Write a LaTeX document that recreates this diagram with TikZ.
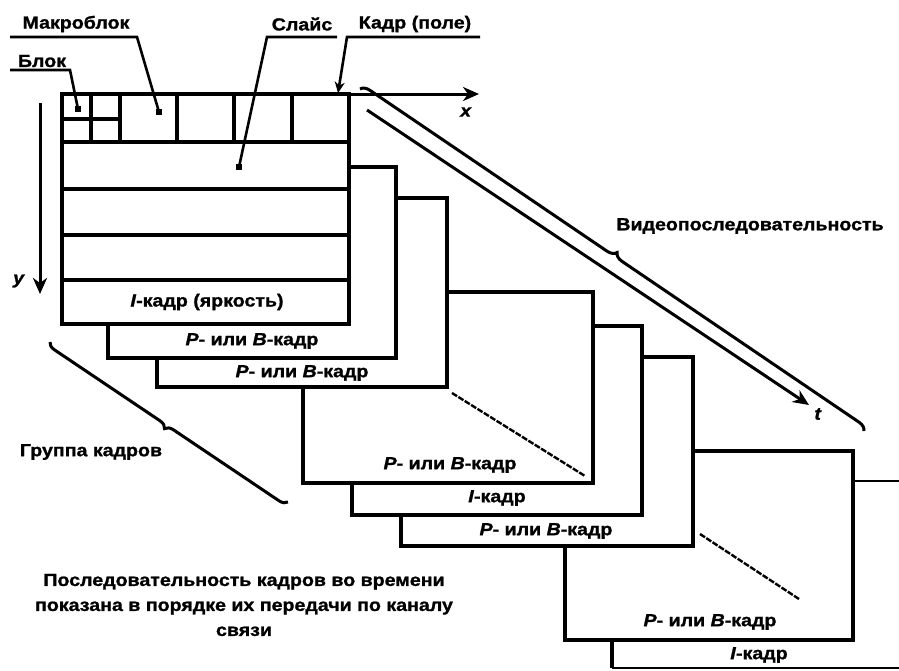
\documentclass[tikz,border=0pt]{standalone}
\usepackage{fontspec}
\setmainfont{Liberation Sans}[FakeStretch=1.12,BoldFeatures={FakeBold=1.2},BoldItalicFeatures={FakeBold=1.2}]
\usetikzlibrary{arrows.meta,decorations.pathreplacing}
\tikzset{
  frm/.style={draw=black,line width=3.2pt,fill=white},
  thinfrm/.style={draw=black,line width=1.2pt},
  grid/.style={draw=black,line width=3.2pt},
  lead/.style={draw=black,line width=2.6pt},
  axis/.style={draw=black,line width=3pt,-{Stealth[length=16pt,width=14pt,inset=5pt]}},
  txt/.style={font=\fontsize{17.5}{20}\selectfont\bfseries,inner sep=0pt},
  diag/.style={draw=black,line width=3pt},
  dsh/.style={draw=black,line width=2.4pt,dash pattern=on 6pt off 1.5pt},
  brc/.style={draw=black,line width=3pt,decorate,decoration={brace,amplitude=9pt}},
  arr/.style={-{Stealth[length=16pt,width=14pt,inset=5pt]}},
  dot/.style={fill=black,inner sep=0pt,minimum size=6pt,rectangle}
}
\begin{document}
\begin{tikzpicture}[x=1pt,y=-1pt]
\useasboundingbox (0,0) rectangle (899,670);
\begin{scope}
\clip (0,0) rectangle (899,670);
% frame 8 (partly outside)
\draw[thinfrm] (853,481) -- (905,481);
\draw[frm] (612,640) -- (612,668);
\draw[thinfrm] (612,668) -- (905,668);
\end{scope}
% frames from back to front
\draw[frm] (565,451) rectangle (853,640);
\draw[dsh] (700,534) -- (799,599);
\draw[frm] (401,357) rectangle (693,546);
\draw[frm] (352,326) rectangle (642,515);
\draw[frm] (303,292) rectangle (593,483);
\draw[dsh] (452,393) -- (585,476);
\draw[frm] (157,198) rectangle (447,387);
\draw[frm] (108,167) rectangle (396,358);
\draw[frm] (62,94) rectangle (349,324);
% frame 1 subdivisions
\draw[grid] (62,142) -- (349,142);
\draw[grid] (62,189) -- (349,189);
\draw[grid] (62,235) -- (349,235);
\draw[grid] (62,280) -- (349,280);
\foreach \xx in {120,177,234,292} \draw[grid] (\xx,94) -- (\xx,142);
\draw[grid] (91,94) -- (91,142);
\draw[grid] (62,119) -- (120,119);
% frame labels
\node[txt] (l1) at (207,302) {\textit{I}-кадр (яркость)};
\node[txt] (l2) at (252,341) {\textit{P}- или \textit{B}-кадр};
\node[txt] (l3) at (302,373) {\textit{P}- или \textit{B}-кадр};
\node[txt] (l4) at (450,465) {\textit{P}- или \textit{B}-кадр};
\node[txt] (l5) at (497,498) {\textit{I}-кадр};
\node[txt] (l6) at (546,531) {\textit{P}- или \textit{B}-кадр};
\node[txt] (l7) at (710,622) {\textit{P}- или \textit{B}-кадр};
\node[txt] (l8) at (759,655) {\textit{I}-кадр};
% axes
\coordinate (xs) at (349,94);
\coordinate (xe) at (479,94);
\draw[axis] (xs) -- (xe);
\node[txt] (xl) at (466,112) {\textit{x}};
\coordinate (ys) at (40,103);
\coordinate (ye) at (40,294);
\draw[axis] (ys) -- (ye);
\node[txt] (yl) at (19,281) {\textit{y}};
% time arrow
\coordinate (ts) at (367,110);
\coordinate (te) at (809,405);
\draw[diag,arr] (ts) -- (te);
\node[txt] (tl) at (818,414) {\textit{t}};
% braces
\coordinate (b1s) at (360,89);
\coordinate (b1e) at (864,431);
\draw[brc] (b1s) -- (b1e);
\node[txt] (vs) at (750,226) {Видеопоследовательность};
\coordinate (b2s) at (50,342);
\coordinate (b2e) at (288,502);
\draw[brc,decoration={brace,amplitude=8pt,mirror}] (b2s) -- (b2e);
\node[txt] (gr) at (91,452) {Группа кадров};
% top labels with leaders
\node[txt] (mb) at (76,24) {Макроблок};
\coordinate (mbu1) at (10,37);
\coordinate (mbu2) at (137,37);
\coordinate (mbt) at (159,112);
\draw[lead] (mbu1) -- (mbu2) -- (mbt);
\node[dot] (mbd) at (mbt) {};
\node[txt] (bl) at (42,61) {Блок};
\coordinate (blu1) at (10,70);
\coordinate (blu2) at (70,70);
\coordinate (blt) at (78,109);
\draw[lead] (blu1) -- (blu2) -- (blt);
\node[dot] (bld) at (blt) {};
\node[txt] (sl) at (302,24) {Слайс};
\coordinate (slu1) at (337,37);
\coordinate (slu2) at (267,37);
\coordinate (slt) at (239,167);
\draw[lead] (slu1) -- (slu2) -- (slt);
\node[dot] (sld) at (slt) {};
\node[txt] (kd) at (415,24) {Кадр (поле)};
\coordinate (kdu1) at (480,37);
\coordinate (kdu2) at (347,37);
\coordinate (kdt) at (338,93);
\draw[lead,-{Stealth[length=11pt,width=10pt]}] (kdu1) -- (kdu2) -- (kdt);
% bottom caption
\node[txt,align=center,font=\fontsize{17.5}{25}\selectfont\bfseries] (cap) at (244,605) {Последовательность кадров во времени\\показана в порядке их передачи по каналу\\связи};
\end{tikzpicture}
\end{document}
